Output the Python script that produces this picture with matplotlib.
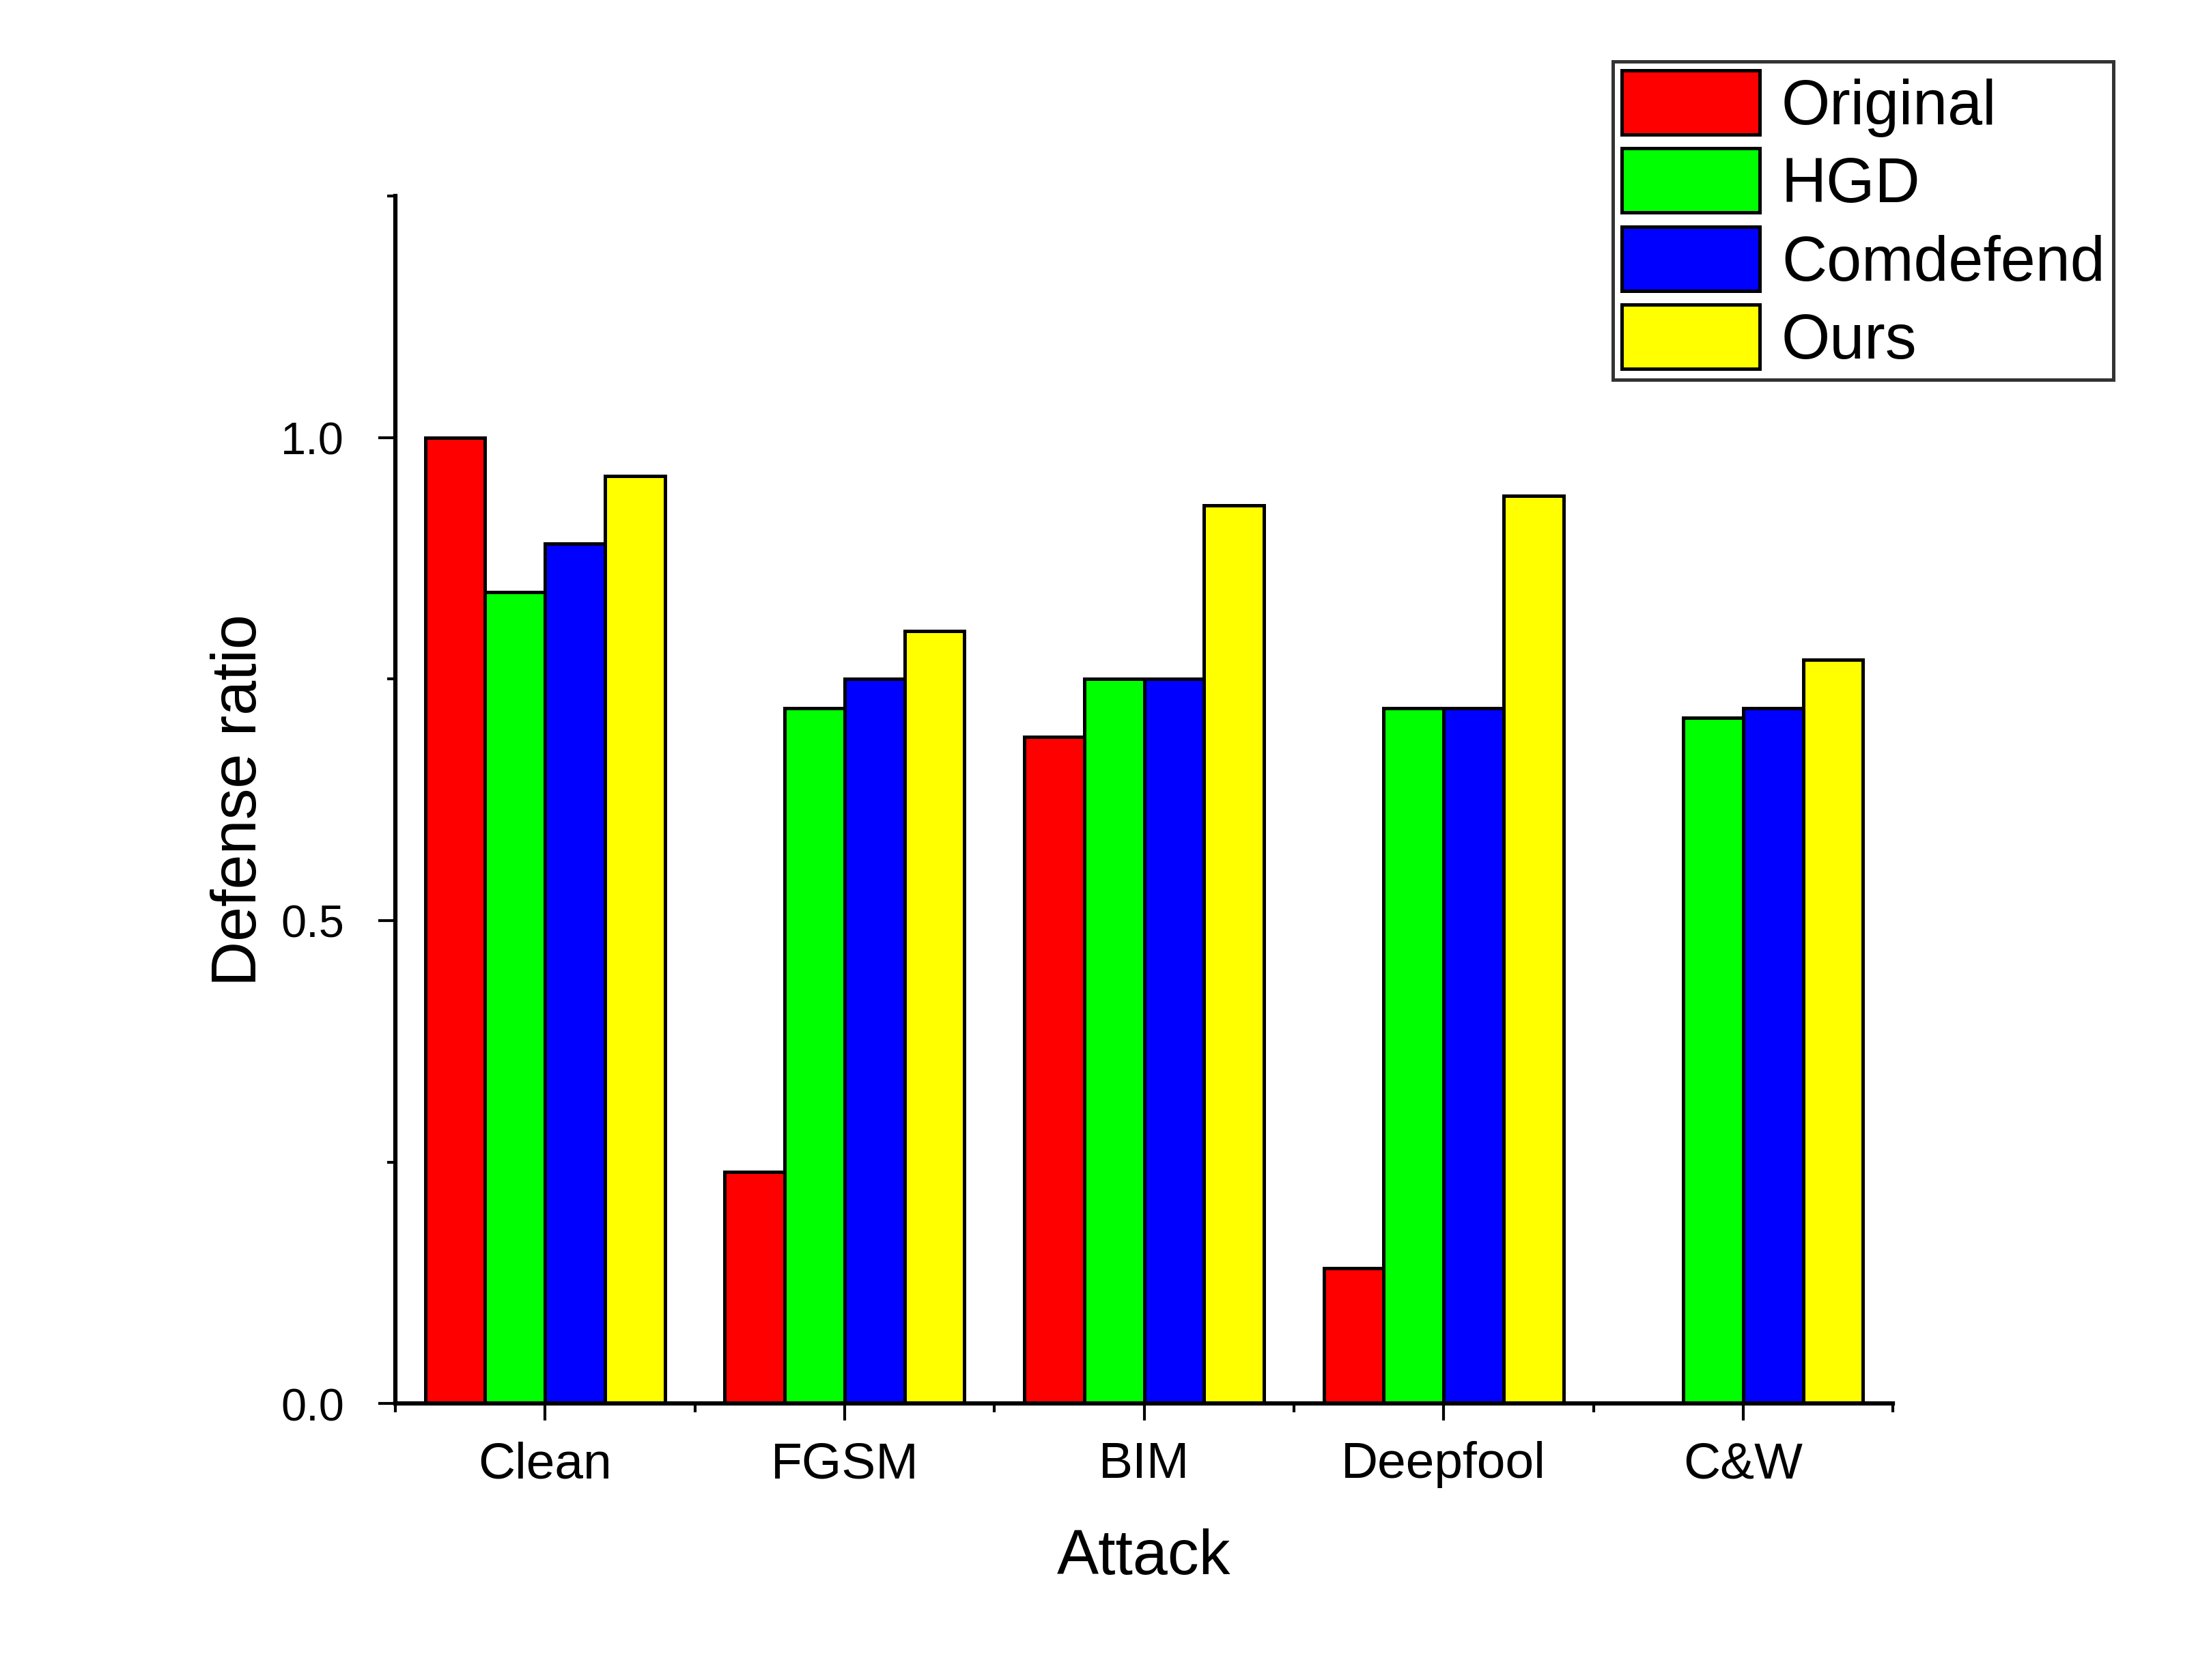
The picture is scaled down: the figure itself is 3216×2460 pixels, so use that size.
import numpy as np
import matplotlib.pyplot as plt
from matplotlib.ticker import MultipleLocator

plt.rcParams['font.family'] = ['Liberation Sans', 'DejaVu Sans']

attacks = ['Clean', 'FGSM', 'BIM', 'Deepfool', 'C&W']
methods = ['Original', 'HGD', 'Comdefend', 'Ours']
colors = ['#ff0000', '#00ff00', '#0000ff', '#ffff00']

original = [1.00, 0.24, 0.69, 0.14, 0.0]
hgd = [0.84, 0.72, 0.75, 0.72, 0.71]
comdefend = [0.89, 0.75, 0.75, 0.72, 0.72]
ours = [0.96, 0.80, 0.93, 0.94, 0.77]

series = [original, hgd, comdefend, ours]

fig = plt.figure(figsize=(10.72, 8.203), dpi=300)
ax = fig.add_axes([0.18, 0.1645, 0.682, 0.7185])

x = np.arange(len(attacks))
w = 0.2
for i, vals in enumerate(series):
    ax.bar(x + (i - 1.5) * w, vals, w, color=colors[i], edgecolor='black',
           linewidth=1.2, label=methods[i], zorder=2)

ax.set_xlim(-0.5, 4.5)
ax.set_ylim(0, 1.25)
ax.set_xticks(x)
ax.set_xticklabels(attacks)
ax.xaxis.set_minor_locator(MultipleLocator(0.5))
ax.set_yticks([0.0, 0.5, 1.0])
ax.set_yticklabels(['0.0', '0.5', '1.0'])
ax.yaxis.set_minor_locator(MultipleLocator(0.25))

for s in ['top', 'right']:
    ax.spines[s].set_visible(False)
for s in ['left', 'bottom']:
    ax.spines[s].set_linewidth(1.5)

ax.tick_params(axis='both', which='major', direction='out', length=6, width=1.0)
ax.tick_params(axis='both', which='minor', direction='out', length=3, width=1.0)
ax.tick_params(axis='x', which='major', labelsize=18, pad=7)
ax.tick_params(axis='y', which='major', labelsize=16, pad=12)

ax.set_xlabel('Attack', fontsize=22, labelpad=14)
ax.set_ylabel('Defense ratio', fontsize=22, labelpad=4)

leg = fig.legend(loc='upper right', bbox_to_anchor=(0.9625, 0.963), fontsize=22,
                 frameon=True, fancybox=False, edgecolor='black',
                 handlelength=2.2, handleheight=1.2, labelspacing=0.19,
                 handletextpad=0.35, borderpad=0.14, borderaxespad=0)
leg.get_frame().set_linewidth(1.2)

fig.savefig('out.png', dpi=300)
